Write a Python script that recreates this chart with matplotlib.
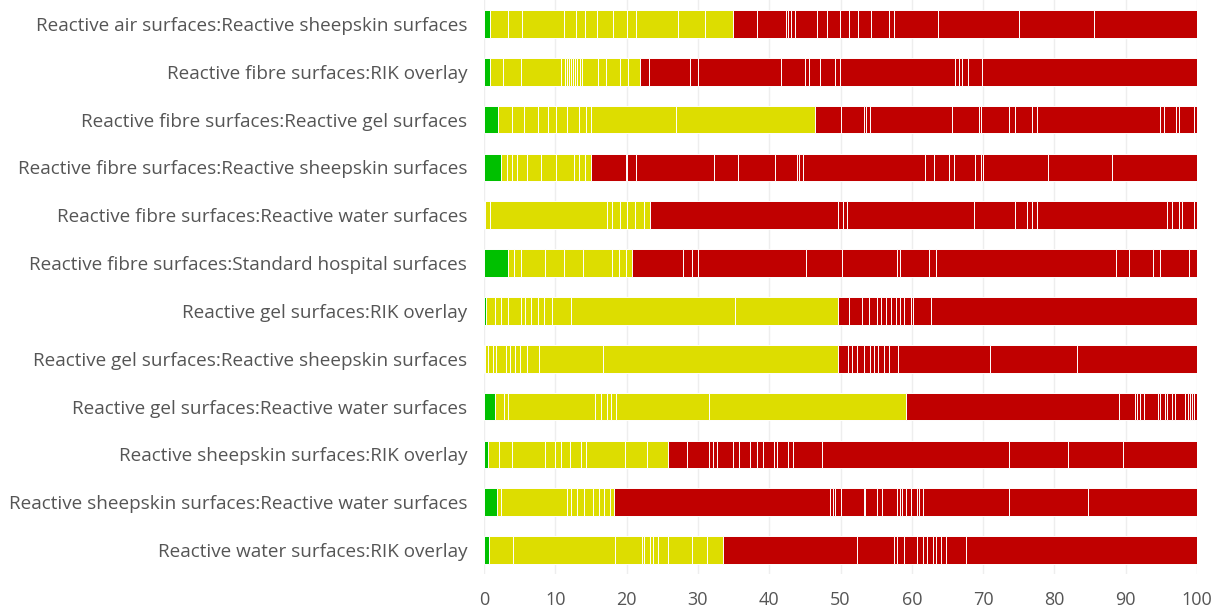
import matplotlib
matplotlib.use("Agg")
import matplotlib.pyplot as plt
import numpy as np

labels = [
    "Reactive air surfaces:Reactive sheepskin surfaces",
    "Reactive fibre surfaces:RIK overlay",
    "Reactive fibre surfaces:Reactive gel surfaces",
    "Reactive fibre surfaces:Reactive sheepskin surfaces",
    "Reactive fibre surfaces:Reactive water surfaces",
    "Reactive fibre surfaces:Standard hospital surfaces",
    "Reactive gel surfaces:RIK overlay",
    "Reactive gel surfaces:Reactive sheepskin surfaces",
    "Reactive gel surfaces:Reactive water surfaces",
    "Reactive sheepskin surfaces:RIK overlay",
    "Reactive sheepskin surfaces:Reactive water surfaces",
    "Reactive water surfaces:RIK overlay",
]

green_w = [
    [0.84], [0.84], [2.0], [2.33], [0.19], [3.4],
    [0.26], [0.19], [1.55], [0.58], [1.88], [0.71],
]

yellow_w = [
    [2.59, 1.94, 5.88, 1.62, 1.36, 1.62, 2.26, 2.01, 1.16, 5.95, 3.82, 3.81],
    [1.88, 2.52, 5.56, 0.5, 0.3, 0.3, 0.3, 0.3, 0.3, 0.3, 0.3, 0.38, 2.20, 1.16, 1.88, 1.23, 1.61],
    [1.95, 1.68, 1.94, 1.42, 1.17, 1.42, 1.74, 0.97, 0.65, 11.97, 19.53],
    [0.84, 0.78, 0.64, 1.49, 1.94, 2.14, 2.52, 0.64, 0.85, 0.77],
    [0.65, 16.37, 0.77, 1.04, 1.03, 1.10, 1.36, 0.71],
    [0.8, 1.0, 3.3, 2.7, 2.7, 4.0, 1.1, 0.9, 0.86],
    [1.29, 0.78, 1.10, 1.81, 0.52, 0.90, 0.91, 0.90, 1.10, 2.66, 23.02, 14.36],
    [0.39, 0.71, 0.46, 1.29, 0.65, 0.64, 0.65, 1.04, 1.68, 8.99, 32.92],
    [1.23, 0.52, 12.29, 0.84, 0.78, 0.64, 0.65, 13.00, 27.68],
    [1.55, 1.82, 4.65, 1.36, 0.84, 1.30, 1.55, 0.71, 5.43, 3.04, 2.98],
    [0.51, 9.19, 0.65, 0.77, 0.97, 1.36, 0.78, 0.77, 0.78, 0.52],
    [3.30, 14.30, 3.81, 0.39, 0.71, 0.52, 0.65, 1.48, 3.30, 2.07, 2.27],
]

red_w = [
    [3.43, 4.08, 0.32, 0.39, 0.58, 3.04, 1.36, 1.88, 1.22, 1.30, 1.81, 2.59, 0.64, 6.21, 11.32, 10.48, 14.49],
    [1.23, 5.82, 1.17, 11.51, 3.43, 0.52, 1.61, 2.14, 0.65, 16.10, 0.52, 0.45, 0.84, 1.94, 30.21],
    [3.69, 3.17, 0.32, 0.46, 11.57, 3.75, 0.33, 3.94, 0.78, 2.46, 0.58, 17.34, 0.58, 1.61, 0.39, 2.14, 0.45],
    [4.92, 0.26, 1.16, 10.93, 3.43, 5.18, 3.10, 0.32, 0.46, 17.14, 1.29, 2.07, 0.71, 2.91, 0.84, 0.26, 9.19, 8.92, 11.97],
    [26.46, 0.64, 0.65, 17.79, 5.69, 1.75, 0.64, 0.65, 18.31, 0.64, 0.97, 0.46, 1.68, 0.45],
    [7.12, 1.29, 0.78, 15.20, 5.04, 7.77, 0.45, 4.07, 0.97, 25.23, 1.81, 3.36, 0.98, 4.01, 1.16],
    [1.55, 1.81, 0.97, 1.23, 0.52, 0.65, 0.78, 0.64, 0.52, 0.65, 0.97, 0.32, 2.46, 37.32],
    [1.42, 0.65, 0.65, 0.97, 0.78, 0.64, 0.58, 0.78, 0.78, 1.16, 13.00, 12.16, 16.82],
    [29.95, 2.14, 0.32, 0.45, 0.52, 1.94, 0.33, 0.64, 0.33, 0.64, 0.52, 1.42, 0.3, 0.3, 0.3, 0.3, 0.42],
    [2.72, 3.04, 0.51, 0.65, 2.13, 0.97, 1.43, 0.97, 0.97, 1.42, 0.52, 1.49, 0.77, 4.01, 26.20, 8.28, 7.76, 10.35],
    [30.40, 0.32, 0.32, 0.78, 3.23, 0.20, 1.74, 0.65, 2.14, 0.32, 0.32, 0.65, 0.65, 0.84, 0.26, 0.64, 11.97, 11.06, 15.33],
    [18.82, 5.17, 0.46, 0.97, 1.81, 0.77, 0.65, 0.78, 0.51, 0.65, 0.65, 2.91, 32.34],
]

x_ticks = [0, 10, 20, 30, 40, 50, 60, 70, 80, 90, 100]

GREEN = "#00c000"
YELLOW = "#dddd00"
RED = "#c00000"

plt.rcParams["font.family"] = ["Open Sans", "DejaVu Sans"]

fig = plt.figure(figsize=(12.25, 6.13), dpi=100)
ax = fig.add_axes([484 / 1225, 1 - 574 / 613, (1197 - 484) / 1225, 574 / 613])

for i in range(len(labels)):
    widths = green_w[i] + yellow_w[i] + red_w[i]
    colors = [GREEN] * len(green_w[i]) + [YELLOW] * len(yellow_w[i]) + [RED] * len(red_w[i])
    lefts = np.concatenate([[0], np.cumsum(widths)[:-1]])
    ax.barh([i] * len(widths), widths, left=lefts, height=0.58, color=colors,
            edgecolor="white", linewidth=0.7, zorder=3)

ax.set_xlim(0, 100)
ax.set_ylim(len(labels) - 0.5, -0.5)
ax.set_yticks(range(len(labels)))
ax.set_yticklabels(labels)
ax.set_xticks(x_ticks)
ax.set_xticklabels([str(t) for t in x_ticks])
ax.tick_params(axis="y", length=0, pad=12, labelsize=13.6, labelcolor="#555555")
ax.tick_params(axis="x", length=0, pad=12, labelsize=13, labelcolor="#555555")
ax.grid(axis="x", color="#eeeeee", linewidth=1, zorder=0)
ax.grid(axis="y", color="#eeeeee", linewidth=1, zorder=0)
for s in ax.spines.values():
    s.set_visible(False)

fig.savefig("out.png", dpi=100)
